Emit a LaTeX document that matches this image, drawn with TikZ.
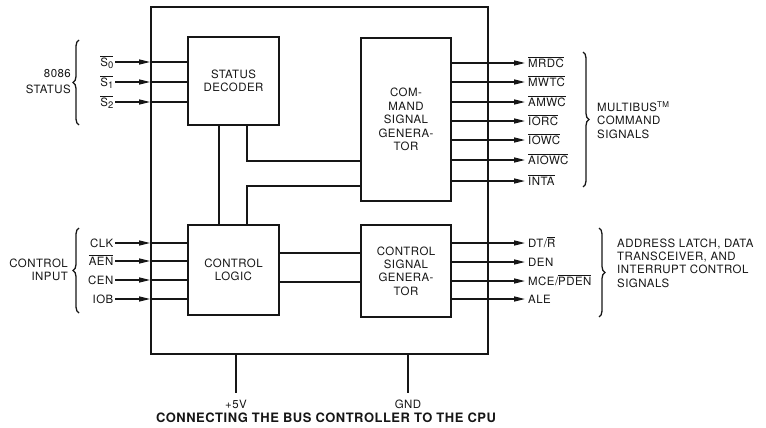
\documentclass[tikz,border=0pt]{standalone}
\usepackage{fontspec}
\setmainfont{TeX Gyre Heros}[LetterSpace=4]
\usepackage{xcolor}
\usetikzlibrary{arrows.meta,positioning,calc,decorations.pathreplacing}
\definecolor{ink}{HTML}{161616}
\newcommand{\ovl}[1]{$\overline{\hbox{#1}}$}
\newcommand{\pinsub}[1]{\raisebox{-.45ex}{\fontsize{9.5}{10}\selectfont #1}}

\begin{document}
\begin{tikzpicture}[x=1bp,y=1bp,font=\fontsize{11.5}{13.5}\selectfont,
  block/.style={draw=ink,line width=1.6bp,inner sep=0pt,align=center,text=ink},
  pinlbl/.style={inner sep=1.5bp,text=ink,text height=8.2bp,text depth=0pt},
  wire/.style={draw=ink,line width=1.3bp},
  sig/.style={wire,-{Triangle[length=11bp,width=5bp]}},
  grp/.style={draw=ink,line width=1.3bp,decorate,decoration={brace,amplitude=6bp}},
  grplbl/.style={inner sep=0pt,text=ink}]
\useasboundingbox (0,0) rectangle (766,427);
\node[block,minimum width=337bp,minimum height=347bp] (chip) at (319.5,246.5) {};
\node[block,minimum width=91bp,minimum height=88bp] (sd) at (233.5,346) {STATUS\\DECODER};
\node[block,minimum width=90bp,minimum height=163bp] (cmd) at (406,307.5) {COM-\\MAND\\SIGNAL\\GENERA-\\TOR};
\node[block,minimum width=91bp,minimum height=90bp] (cl) at (233.5,157) {CONTROL\\LOGIC};
\node[block,minimum width=90bp,minimum height=92bp] (csg) at (406,156) {CONTROL\\SIGNAL\\GENERA-\\TOR};
\draw[wire] ([xshift=-14.5bp]sd.south) -- ([xshift=-14.5bp]cl.north);
\draw[wire] ([xshift=13.5bp]sd.south) |- ([yshift=-41.5bp]cmd.west);
\draw[wire] ([xshift=13.5bp]cl.north) |- ([yshift=-66.5bp]cmd.west);
\draw[wire] ([yshift=17bp]cl.east) -- ([yshift=17bp]cl.east -| csg.west);
\draw[wire] ([yshift=-12bp]cl.east) -- ([yshift=-12bp]cl.east -| csg.west);
\node[pinlbl,anchor=east] (s0) at (115,365) {\ovl{S\pinsub{0}}};
\node[pinlbl,anchor=east] (s1) at (115,345) {\ovl{S\pinsub{1}}};
\node[pinlbl,anchor=east] (s2) at (115,325) {\ovl{S\pinsub{2}}};
\foreach \p in {s0,s1,s2}{
  \draw[sig] (\p.east) -- (\p.east -| chip.west);
  \draw[wire] (\p.east -| chip.west) -- (\p.east -| sd.west);
}
\node[pinlbl,anchor=east] (clk) at (115,184) {CLK};
\node[pinlbl,anchor=east] (aen) at (115,166) {\ovl{AEN}};
\node[pinlbl,anchor=east] (cen) at (115,147) {CEN};
\node[pinlbl,anchor=east] (iob) at (115,128) {IOB};
\foreach \p in {clk,aen,cen,iob}{
  \draw[sig] (\p.east) -- (\p.east -| chip.west);
  \draw[wire] (\p.east -| chip.west) -- (\p.east -| cl.west);
}
\node[pinlbl,inner xsep=3bp,anchor=west] (mrdc) at (525,364) {\ovl{MRDC}};
\node[pinlbl,inner xsep=3bp,anchor=west] (mwtc) at (525,345) {\ovl{MWTC}};
\node[pinlbl,inner xsep=3bp,anchor=west] (amwc) at (525,325) {\ovl{AMWC}};
\node[pinlbl,inner xsep=3bp,anchor=west] (iorc) at (525,306) {\ovl{IORC}};
\node[pinlbl,inner xsep=3bp,anchor=west] (iowc) at (525,287) {\ovl{IOWC}};
\node[pinlbl,inner xsep=3bp,anchor=west] (aiowc) at (525,267) {\ovl{AIOWC}};
\node[pinlbl,inner xsep=3bp,anchor=west] (inta) at (525,246) {\ovl{INTA}};
\foreach \p in {mrdc,mwtc,amwc,iorc,iowc,aiowc,inta}{
  \draw[sig] (\p.west -| cmd.east) -- (\p.west);
}
\node[pinlbl,inner xsep=3bp,anchor=west] (dtr) at (525,184) {DT/\ovl{R}};
\node[pinlbl,inner xsep=3bp,anchor=west] (den) at (525,165) {DEN};
\node[pinlbl,inner xsep=3bp,anchor=west] (mce) at (525,146) {MCE/\ovl{PDEN}};
\node[pinlbl,inner xsep=3bp,anchor=west] (ale) at (525,128) {ALE};
\foreach \p in {dtr,den,mce,ale}{
  \draw[sig] (\p.west -| csg.east) -- (\p.west);
}
\draw[grp] (79,302) -- (79,387);
\node[grplbl,anchor=east,align=right] (stat) at (71,345) {8086\\[2.5bp]STATUS};
\draw[grp] (79,114) -- (79,199);
\node[grplbl,anchor=east,align=right] (ctlin) at (68,157) {CONTROL\\INPUT};
\draw[grp] (583,375) -- (583,240);
\node[grplbl,anchor=west,align=left] (mbus) at (597,307) {MULTIBUS\textsuperscript{TM}\\COMMAND\\SIGNALS};
\draw[grp] (599,199) -- (599,110);
\node[grplbl,anchor=west,align=left] (latch) at (617,164) {ADDRESS LATCH, DATA\\TRANSCEIVER, AND\\INTERRUPT CONTROL\\SIGNALS};
\node[pinlbl] (vcc) at (236,23) {+5V};
\node[pinlbl] (gnd) at (408,23) {GND};
\draw[wire,shorten >=5bp] (vcc |- chip.south) -- (vcc.north);
\draw[wire,shorten >=5bp] (gnd |- chip.south) -- (gnd.north);
\node[text=ink,font=\fontsize{13}{15}\selectfont\bfseries] (title) at (326,9) {CONNECTING THE BUS CONTROLLER TO THE CPU};
\end{tikzpicture}
\end{document}
